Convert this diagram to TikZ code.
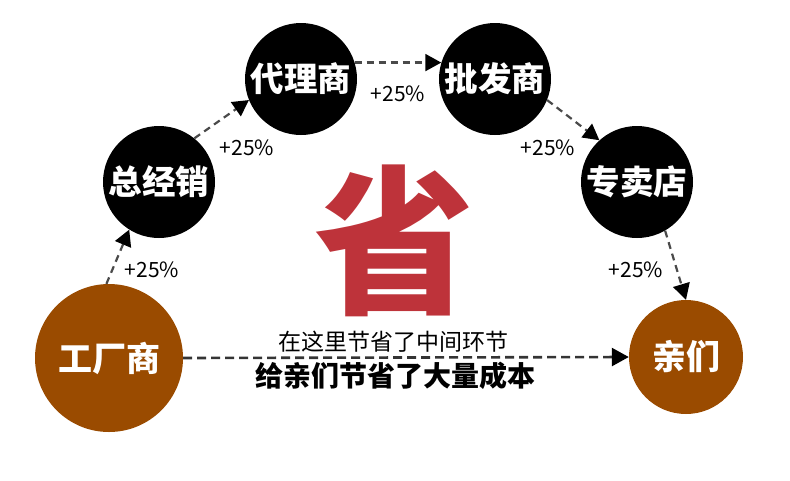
\documentclass[tikz,border=0pt]{standalone}
\usepackage{fontspec}
\setmainfont{Noto Sans CJK SC}
\usetikzlibrary{arrows.meta}
\definecolor{rust}{HTML}{9A4B00}
\definecolor{sealred}{HTML}{BE333A}
\definecolor{dashgray}{HTML}{4A4A4A}

\begin{document}
\begin{tikzpicture}[x=1pt, y=-1pt,
    stage/.style={circle, fill=black, minimum size=112pt, inner sep=0pt,
                  text=white, font=\fontsize{33.5}{33.5}\selectfont\bfseries},
    rim/.style={circle, fill=rust, inner sep=0pt,
                text=white, font=\fontsize{34}{34}\selectfont\bfseries},
    pct/.style={font=\fontsize{21}{21}\selectfont},
    hop/.style={dashgray, line width=2.2pt, dash pattern=on 7pt off 5pt,
                -{Triangle[length=16pt, width=17pt, color=black]}},
    skip/.style={dashgray!70!black, line width=2.6pt, dash pattern=on 9pt off 5pt,
                 -{Triangle[length=17pt, width=18pt, color=black]}}
  ]
  \useasboundingbox (0,0) rectangle (790,480);

  % chain of middlemen
  \node[rim, minimum size=148pt] (factory) at (109,358) {工厂商};
  \node[stage] (general) at (159,182) {总经销};
  \node[stage] (agent) at (301,79) {代理商};
  \node[stage] (whole) at (495,79) {批发商};
  \node[stage] (store) at (637,182) {专卖店};
  \node[rim, minimum size=114pt] (buyers) at (686,357) {亲们};

  % big mark
  \node[text=sealred, font=\fontsize{160}{160}\selectfont\bfseries] (save) at (394,241) {省};

  \draw[hop] (factory.92) -- (general.238);
  \draw[hop] (general.51) -- (agent.202);
  \draw[hop] (agent.17) -- (whole.163);
  \draw[hop] (whole.338) -- (store.132);
  \draw[hop] (store.300) -- (buyers.90);

  \node[pct] (p1) at (152,270) {+25\%};
  \node[pct] (p2) at (247,148) {+25\%};
  \node[pct] (p3) at (398,94) {+25\%};
  \node[pct] (p4) at (548,148) {+25\%};
  \node[pct] (p5) at (636,270) {+25\%};

  % direct route
  \draw[skip] (factory.east) -- (buyers.west);
  \node[font=\fontsize{23}{23}\selectfont] (cut) at (393,342) {在这里节省了中间环节};
  \node[font=\fontsize{28}{28}\selectfont\bfseries] (gain) at (395,376) {给亲们节省了大量成本};
\end{tikzpicture}
\end{document}
